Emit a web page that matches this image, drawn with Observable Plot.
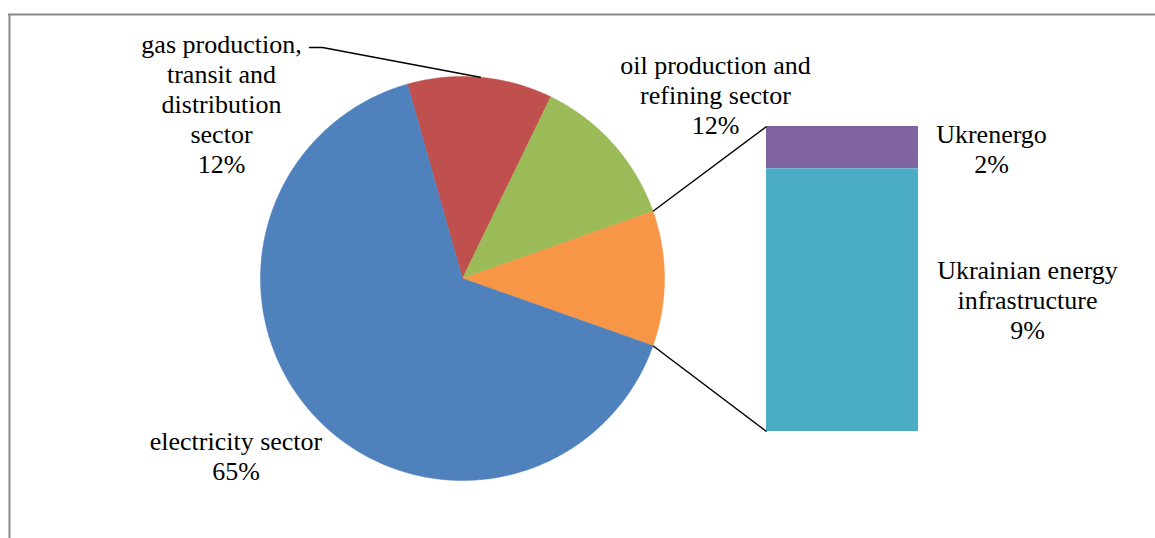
<!DOCTYPE html>
<html>
<head>
<meta charset="utf-8">
<script src="https://cdn.jsdelivr.net/npm/d3@7"></script>
<script src="https://cdn.jsdelivr.net/npm/@observablehq/plot@0.6"></script>
</head>
<body style="margin:0">
<script>
// ---- data ----
const sectors = ["electricity sector", "gas production, transit and distribution sector", "oil production and refining sector"];
const sectorLabelLines = [["electricity sector"], ["gas production,", "transit and", "distribution", "sector"], ["oil production and", "refining sector"]];
const sectorShares = [65.2, 11.6, 12.4];
const sectorColors = ["#4F81BD", "#C0504D", "#9BBB59"];

const barItems = ["Ukrenergo", "Ukrainian energy infrastructure"];
const barLabelLines = [["Ukrenergo"], ["Ukrainian energy", "infrastructure"]];
const barShares = [1.5, 9.3];
const barColors = ["#8064A2", "#4BACC6"];

const otherName = "other";
const otherColor = "#F79646";

// ---- layout (pixels) ----
const W = 1155, H = 538, CX = 462, CY = 278, R = 202;
const u = px => (px - CX) / R;
const v = py => (CY - py) / R;
const BAR = {x1: 766, x2: 918, top: 126, bottom: 431};
const FRAME = {left: 9, top: 14};
const FONT = 26, LINE = 30;

// ---- pie geometry ----
const otherTotal = d3.sum(barShares);
const pieData = [
  {name: sectors[1], value: sectorShares[1]},
  {name: sectors[2], value: sectorShares[2]},
  {name: otherName, value: otherTotal},
  {name: sectors[0], value: sectorShares[0]}
];
const total = d3.sum(pieData, d => d.value);
const start = Math.PI / 2 - 2 * Math.PI * (sectorShares[1] + sectorShares[2] + otherTotal / 2) / total;
const arcs = d3.pie().sort(null).value(d => d.value).startAngle(start).endAngle(start + 2 * Math.PI)(pieData);
const pt = a => [Math.sin(a), Math.cos(a)];

const slicePts = [];
for (const a of arcs) {
  slicePts.push({name: a.data.name, x: 0, y: 0});
  const n = Math.max(2, Math.ceil((a.endAngle - a.startAngle) / (Math.PI / 360)));
  for (let i = 0; i <= n; i++) {
    const t = a.startAngle + (a.endAngle - a.startAngle) * i / n;
    const [x, y] = pt(t);
    slicePts.push({name: a.data.name, x, y});
  }
}

// ---- bar geometry ----
const barH = BAR.bottom - BAR.top;
let cum = 0;
const barData = barItems.map((name, i) => {
  const y1 = BAR.top + cum / otherTotal * barH;
  cum += barShares[i];
  const y2 = BAR.top + cum / otherTotal * barH;
  return {name, x1: u(BAR.x1), x2: u(BAR.x2), y1: v(y1), y2: v(y2)};
});

// connectors from "other" slice to bar
const otherArc = arcs.find(a => a.data.name === otherName);
const [ox1, oy1] = pt(otherArc.startAngle);
const [ox2, oy2] = pt(otherArc.endAngle);
const connectors = [
  {x1: ox1, y1: oy1, x2: u(BAR.x1), y2: v(BAR.top)},
  {x1: ox2, y1: oy2, x2: u(BAR.x1), y2: v(BAR.bottom)}
];

// gas leader line
const gasArc = arcs.find(a => a.data.name === sectors[1]);
const gasMid = pt((gasArc.startAngle + gasArc.endAngle) / 2);
const leader = [[u(309), v(47)], [u(322), v(47)], gasMid];

// labels: one text per line; anchor = centre x and baseline of last line (px)
const pct = x => Math.round(x) + "%";
const blocks = [
  {lines: [...sectorLabelLines[1], pct(sectorShares[1])], cx: 221, base: 172},
  {lines: [...sectorLabelLines[2], pct(sectorShares[2])], cx: 715, base: 133},
  {lines: [...sectorLabelLines[0], pct(sectorShares[0])], cx: 235.5, base: 479},
  {lines: [...barLabelLines[0], pct(barShares[0])], cx: 991, base: 172},
  {lines: [...barLabelLines[1], pct(barShares[1])], cx: 1027, base: 338}
];
const labelRows = blocks.flatMap(b => b.lines.map((t, i) => ({
  text: t, x: u(b.cx), y: v(b.base - (b.lines.length - 1 - i) * LINE)
})));

const chart = Plot.plot({
  width: W,
  height: H,
  margin: 0,
  x: {domain: [u(0), u(W)], axis: null},
  y: {domain: [v(H), v(0)], axis: null},
  color: {domain: [...sectors, otherName, ...barItems], range: [...sectorColors, otherColor, ...barColors]},
  marks: [
    Plot.ruleY([v(FRAME.top)], {x1: u(FRAME.left - 1), x2: u(W), stroke: "#8a8a8a", strokeWidth: 2}),
    Plot.ruleX([u(FRAME.left)], {y1: v(FRAME.top), y2: v(H), stroke: "#8a8a8a", strokeWidth: 2}),
    Plot.line(slicePts, {x: "x", y: "y", z: "name", fill: "name", stroke: "name", strokeWidth: 0.5, curve: "linear-closed"}),
    Plot.rect(barData, {x1: "x1", x2: "x2", y1: "y1", y2: "y2", fill: "name"}),
    Plot.link(connectors, {x1: "x1", y1: "y1", x2: "x2", y2: "y2", stroke: "black", strokeWidth: 1.5}),
    Plot.line(leader, {stroke: "black", strokeWidth: 1.5}),
    Plot.text(labelRows, {x: "x", y: "y", text: "text", textAnchor: "middle", fontFamily: "Liberation Serif",
      lineAnchor: "bottom", fontSize: FONT, fill: "black"})
  ]
});
document.body.append(chart);
</script>
</body>
</html>
